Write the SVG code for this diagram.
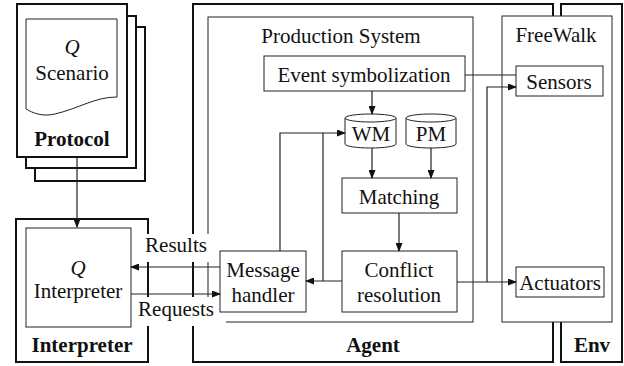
<svg xmlns="http://www.w3.org/2000/svg" width="624" height="366" viewBox="0 0 624 366">
<style>
  text { font-family: "Liberation Serif", "Times New Roman", serif; font-size: 21px; fill: #111; text-anchor: middle; }
  .b { font-weight: bold; }
  .i { font-style: italic; }
  .thick { fill: #fff; stroke: #111; stroke-width: 2; }
  .thin { fill: #fff; stroke: #222; stroke-width: 1; }
  .con { fill: none; stroke: #222; stroke-width: 1.2; }
  .bg { fill: #fff; stroke: none; }
</style>
<defs>
  <marker id="ah" markerWidth="9" markerHeight="7" refX="8" refY="3.5" orient="auto" markerUnits="userSpaceOnUse">
    <path d="M0,0 L9,3.5 L0,7 z" fill="#111"/>
  </marker>
</defs>

<g id="protocol">
  <rect class="thick" x="35" y="27" width="110" height="154"/>
  <rect class="thick" x="26" y="16" width="110" height="152"/>
  <rect class="thick" x="17" y="4" width="110" height="153"/>
  <path class="thin" d="M26,19 H117 V97 C95,97 80,108 55,114 C42,117 33,113 26,109 Z"/>
  <text class="i" x="72" y="54">Q</text>
  <text x="72" y="80">Scenario</text>
  <text class="b" x="72" y="146">Protocol</text>
</g>

<g id="interpreter">
  <rect class="thick" x="16" y="219" width="132" height="143"/>
  <text class="b" x="82" y="352">Interpreter</text>
</g>

<g id="agent">
  <rect class="thick" x="193" y="4" width="360" height="358"/>
  <text class="b" x="373" y="352">Agent</text>
</g>

<g id="env">
  <rect class="thick" x="561" y="4" width="61" height="358"/>
  <text class="b" x="592" y="352">Env</text>
</g>

<g id="production-system">
  <rect class="thin" x="208" y="17" width="265" height="305"/>
  <text x="341" y="43">Production System</text>
</g>

<g id="freewalk">
  <rect class="thin" x="502" y="16" width="110" height="306"/>
  <text x="556" y="42">FreeWalk</text>
</g>

<g id="label-backgrounds">
  <rect class="bg" x="138" y="234" width="78" height="28"/>
  <rect class="bg" x="135" y="297" width="91" height="29"/>
</g>

<g id="q-interpreter">
  <rect class="thin" x="26" y="228" width="105" height="99"/>
  <text class="i" x="78" y="275">Q</text>
  <text x="78" y="298">Interpreter</text>
</g>

<g id="event-symbolization">
  <rect class="thin" x="264" y="56" width="201" height="35"/>
  <text x="364" y="82">Event symbolization</text>
</g>

<g id="wm">
  <path class="thin" d="M345,118 V144 A25.5,4 0 0 0 396,144 V118 A25.5,4 0 0 0 345,118 Z"/>
  <path class="thin" fill="none" d="M345,118 A25.5,4 0 0 0 396,118"/>
  <text x="371" y="141">WM</text>
</g>

<g id="pm">
  <path class="thin" d="M406,118 V144 A25,4 0 0 0 456,144 V118 A25,4 0 0 0 406,118 Z"/>
  <path class="thin" fill="none" d="M406,118 A25,4 0 0 0 456,118"/>
  <text x="431" y="141">PM</text>
</g>

<g id="matching">
  <rect class="thin" x="342" y="178" width="115" height="35"/>
  <text x="399" y="204">Matching</text>
</g>

<g id="conflict-resolution">
  <rect class="thin" x="342" y="251" width="115" height="61"/>
  <text x="399" y="277">Conflict</text>
  <text x="399" y="302">resolution</text>
</g>

<g id="message-handler">
  <rect class="thin" x="220" y="251" width="86" height="61"/>
  <text x="263" y="277">Message</text>
  <text x="263" y="302">handler</text>
</g>

<g id="sensors">
  <rect class="thin" x="516" y="66" width="87" height="30"/>
  <text x="559" y="89">Sensors</text>
</g>

<g id="actuators">
  <rect class="thin" x="516" y="267" width="88" height="30"/>
  <text x="560" y="290">Actuators</text>
</g>

<g id="connectors">
  <path class="con" d="M77,157 V227" marker-end="url(#ah)"/>
  <path class="con" d="M220,267 H131" marker-end="url(#ah)"/>
  <path class="con" d="M131,294 H220" marker-end="url(#ah)"/>
  <path class="con" d="M280,251 V133 H345" marker-end="url(#ah)"/>
  <path class="con" d="M342,281 H306" marker-end="url(#ah)"/>
  <path class="con" d="M323,281 V133"/>
  <path class="con" d="M372,91 V114" marker-end="url(#ah)"/>
  <path class="con" d="M372,148 V178" marker-end="url(#ah)"/>
  <path class="con" d="M431,148 V178" marker-end="url(#ah)"/>
  <path class="con" d="M399,213 V251" marker-end="url(#ah)"/>
  <path class="con" d="M457,282 H516" marker-end="url(#ah)"/>
  <path class="con" d="M487,282 V87 H516" marker-end="url(#ah)"/>
  <path class="con" d="M465,75 H516"/>
</g>

<g id="labels">
  <text x="176" y="252">Results</text>
  <text x="176" y="316">Requests</text>
</g>
</svg>
